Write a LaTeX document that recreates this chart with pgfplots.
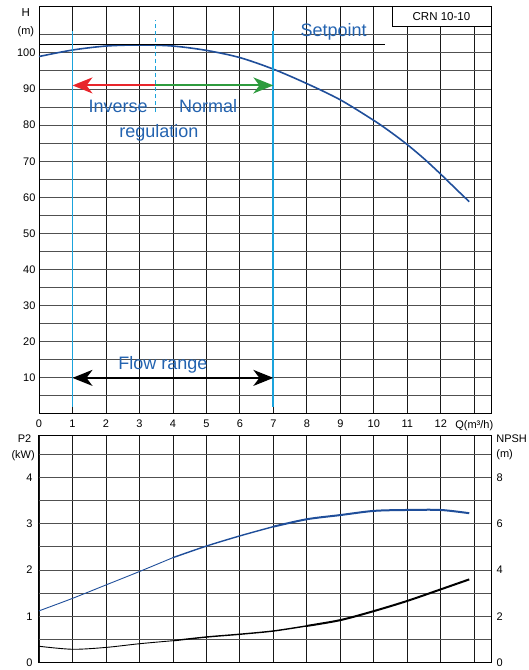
\documentclass[border=0pt]{standalone}
\usepackage{pgfplots}
\pgfplotsset{compat=1.18}
\usepackage{fontspec}
\setmainfont{Liberation Sans}
\usetikzlibrary{arrows.meta}
\definecolor{curveblue}{HTML}{1F4E9A}
\definecolor{textblue}{HTML}{2363B0}
\definecolor{lineCyan}{HTML}{1AA3DC}
\definecolor{arrRed}{HTML}{E8252B}
\definecolor{arrGreen}{HTML}{2E9B3E}
\definecolor{gridgray}{HTML}{505050}

\pgfplotsset{
 base/.style={scale only axis, anchor=south west, enlargelimits=false, clip=false,
   xmin=0,xmax=13.5, major tick length=0pt, minor tick length=0pt,
   every axis grid/.style={}, every major grid/.style={}, every minor grid/.style={},
   every axis x grid/.style={black!90,line width=0.8pt},
   every axis y grid/.style={gridgray,line width=1pt},
   axis line style={black,line width=1pt},
   tick label style={font=\fontsize{11}{13}\selectfont},
   /pgf/number format/assume math mode=true,
 },
 bigarrow/.style={-{Stealth[length=20pt,width=16pt,inset=6pt]}},
}

\begin{document}
\begin{tikzpicture}
\path[use as bounding box] (0pt,0pt) rectangle (528pt,670pt);

% ---------------- top: H ----------------
\begin{axis}[base, at={(39pt,256pt)}, width=452pt, height=407.3pt,
  ymin=0, ymax=112.8,
  xtick={0,...,13},
  xticklabels={0,1,2,3,4,5,6,7,8,9,10,11,12,Q(m³/h)},
  xticklabel style={yshift=-2.5pt},
  ytick={10,20,...,100}, minor ytick={5,15,...,110},
  grid=both]
 \addplot[curveblue, line width=1.6pt, smooth] coordinates {
  (0,99.0)(1,100.8)(2,101.9)(3,102.2)(4,101.9)(5,100.7)(6,98.7)(7,95.5)
  (8,91.5)(9,87.0)(10,81.3)(10.5,78.1)(11,74.6)(11.5,70.7)(12,66.4)(12.5,61.9)(12.85,58.8)};
 % setpoint
 \addplot[black, line width=1.5pt] coordinates {(0,102.3)(10.33,102.3)};
 % vertical limits
 \addplot[lineCyan, line width=1.8pt] coordinates {(1,2)(1,106)};
 \addplot[lineCyan, line width=1.8pt] coordinates {(7,2)(7,106)};
 \addplot[lineCyan, line width=0.9pt, dash pattern=on 4pt off 3pt] coordinates {(3.47,83.6)(3.47,109)};
 % regulation arrows
 \addplot[arrRed, line width=2pt, bigarrow] coordinates {(3.47,91)(1,91)};
 \addplot[arrGreen, line width=2pt, bigarrow] coordinates {(3.47,91)(7,91)};
 % flow range
 \addplot[black, line width=2pt, {Stealth[length=20pt,width=16pt,inset=6pt]}-{Stealth[length=20pt,width=16pt,inset=6pt]}] coordinates {(1,10)(7,10)};
 % box
 \filldraw[fill=white, draw=black, line width=1pt] (axis cs:10.55,107.2) rectangle (axis cs:13.5,112.8);
 \node[font=\fontsize{11.5}{13}\selectfont] at (axis cs:12.02,110.0) {CRN 10-10};
 \node[text=textblue, font=\fontsize{18}{20}\selectfont] at (axis cs:8.8,105.8) {Setpoint};
 \node[text=textblue, font=\fontsize{18}{20}\selectfont] at (axis cs:2.36,85.2) {Inverse};
 \node[text=textblue, font=\fontsize{18}{20}\selectfont] at (axis cs:5.05,85.2) {Normal};
 \node[text=textblue, font=\fontsize{18}{20}\selectfont] at (axis cs:3.58,77.9) {regulation};
 \node[text=textblue, font=\fontsize{18}{20}\selectfont] at (axis cs:3.7,13.6) {Flow range};
 \node[font=\fontsize{11.5}{13}\selectfont] at (rel axis cs:-0.029,0.986) {H};
 \node[font=\fontsize{11}{13}\selectfont] at (rel axis cs:-0.029,0.939) {(m)};
\end{axis}

% ---------------- bottom: P2 ----------------
\begin{axis}[base, at={(39pt,7.3pt)}, width=452pt, height=227.7pt,
  ymin=0, ymax=4.92,
  xtick={0,...,13}, xticklabels={},
  ytick={0,...,4}, minor ytick={0.5,1.5,...,4.5},
  yticklabel style={xshift=-3pt},
  grid=both]
 \addplot[curveblue, line width=0.9pt, smooth] coordinates {
  (0,1.12)(1,1.39)(2,1.68)(3,1.97)(4,2.27)};
 \addplot[curveblue, line width=1.4pt, smooth] coordinates {
  (4,2.27)(5,2.52)(6,2.74)(7,2.94)};
 \addplot[curveblue, line width=2pt, smooth] coordinates {
  (7,2.94)(8,3.10)(9,3.19)(10,3.28)(11,3.30)(12,3.30)(12.85,3.23)};
 \node[font=\fontsize{11}{13}\selectfont] at (rel axis cs:-0.032,0.985) {P2};
 \node[font=\fontsize{11}{13}\selectfont] at (rel axis cs:-0.035,0.909) {(kW)};
\end{axis}

% ---------------- bottom: NPSH ----------------
\begin{axis}[base, at={(39pt,7.3pt)}, width=452pt, height=227.7pt,
  ymin=0, ymax=9.84,
  axis y line*=right, axis x line=none,
  ytick={0,2,...,8},
  yticklabel style={xshift=2pt}]
 \addplot[black, line width=0.9pt, smooth] coordinates {
  (0,0.71)(1,0.58)(2,0.66)(3,0.82)(4,0.95)};
 \addplot[black, line width=1.4pt, smooth] coordinates {
  (4,0.95)(5,1.11)(6,1.23)(7,1.37)(8,1.59)};
 \addplot[black, line width=2pt, smooth] coordinates {
  (8,1.59)(9,1.84)(10,2.23)(11,2.67)(12,3.17)(12.85,3.6)};
 \node[anchor=west, font=\fontsize{11}{13}\selectfont] at (rel axis cs:1.004,0.985) {NPSH};
 \node[anchor=west, font=\fontsize{11}{13}\selectfont] at (rel axis cs:1.004,0.912) {(m)};
\end{axis}
\end{tikzpicture}
\end{document}
